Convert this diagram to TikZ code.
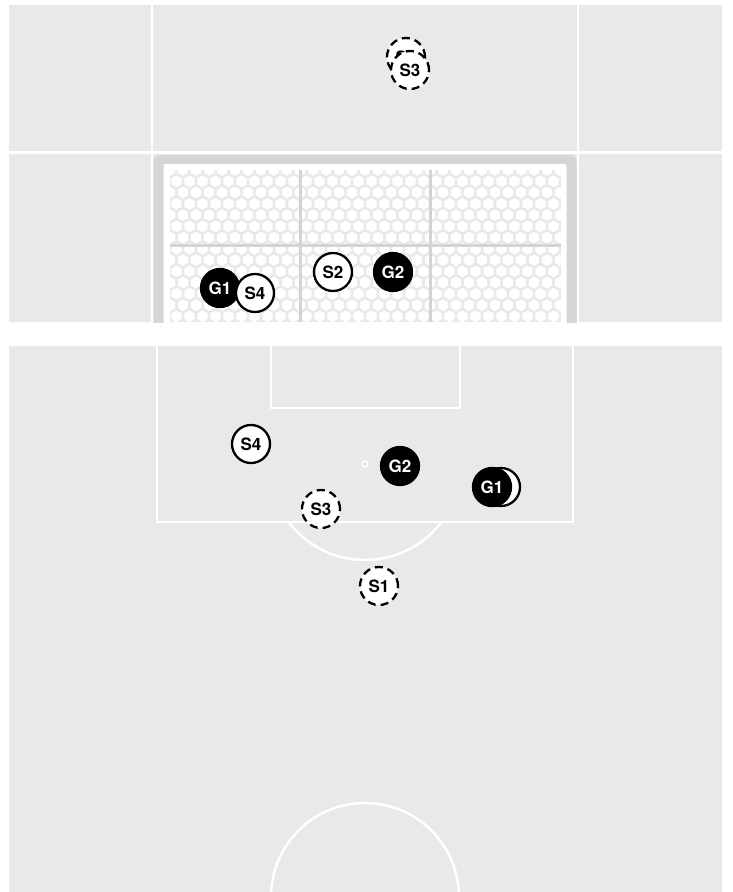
\documentclass[tikz,border=0pt]{standalone}
\usepackage{fontspec}
\setmainfont{TeX Gyre Heros}
\definecolor{pitch}{HTML}{E9E9E9}
\definecolor{framegray}{HTML}{D6D6D6}
\definecolor{netbg}{HTML}{E9E9E9}
\definecolor{netline}{HTML}{D3D3D3}
\begin{document}
\begin{tikzpicture}[x=1pt,y=-1pt,
  pline/.style={white, line width=2.5pt},
  player/.style={circle, minimum size=38pt, inner sep=0pt, line width=2.3pt,
    font=\fontsize{17}{17}\selectfont\bfseries},
  att/.style={player, draw=black, fill=white, text=black},
  attd/.style={att, dash pattern=on 8pt off 5pt},
  gk/.style={player, draw=black, fill=black, text=white}]
\useasboundingbox (0,0) rectangle (732,892);
\fill[white] (0,0) rectangle (732,892);

% ---------- top panel: goal view ----------
\fill[pitch] (9,5) rectangle (722,322);
\draw[pline] (152,5) -- (152,322);
\draw[pline] (578,5) -- (578,322);
\draw[pline] (9,152.5) -- (722,152.5);
\begin{scope}
  \clip (9,5) rectangle (722,322);
  \fill[framegray, rounded corners=6pt] (153.5,155) rectangle (576.5,345);
  \fill[white, rounded corners=2pt] (163.5,164) rectangle (566.5,345);
\end{scope}
\begin{scope}
  \clip (170,170) rectangle (561,322);
  \fill[netbg] (170,170) rectangle (561,322);
  \foreach \j in {0,...,14}{
    \foreach \i in {-1,...,30}{
      \pgfmathsetmacro\hx{170+\i*13+mod(\j,2)*6.5}
      \pgfmathsetmacro\hy{170+\j*11.26}
      \fill[white] (\hx,\hy) +(30:5.8) -- +(90:5.8) -- +(150:5.8) -- +(210:5.8)
        -- +(270:5.8) -- +(330:5.8) -- cycle;
    }
  }
\end{scope}
\draw[netline, line width=3pt] (300,170) -- (300,322);
\draw[netline, line width=3pt] (430,170) -- (430,322);
\draw[netline, line width=3pt] (170,245) -- (561,245);

\node[attd] (tS1) at (406,57) {S1};
\node[attd] (tS3) at (410,70) {S3};
\node[gk]  (tG1) at (220,288) {G1};
\node[att] (tS4) at (255,293) {S4};
\node[att] (tS2) at (333,272) {S2};
\node[gk]  (tG2) at (393,272) {G2};

% ---------- bottom panel: pitch view ----------
\fill[pitch] (9,346) rectangle (722,892);
\draw[pline] (157,346) -- (157,522) -- (573,522) -- (573,346);
\draw[pline] (271,346) -- (271,408) -- (460,408) -- (460,346);
\draw[white, line width=1.3pt] (365,464) circle (3);
\begin{scope}
  \clip (0,523) rectangle (732,892);
  \draw[pline] (365,464) circle (96);
\end{scope}
\draw[pline] (365,897) circle (94);

\node[att] (bX)  at (501,487) {};
\node[gk]  (bG1) at (492,487) {G1};
\node[att] (bS4) at (251,444) {S4};
\node[gk]  (bG2) at (400,466) {G2};
\node[attd] (bS3) at (321,509) {S3};
\node[attd] (bS1) at (379,586) {S1};
\end{tikzpicture}
\end{document}
